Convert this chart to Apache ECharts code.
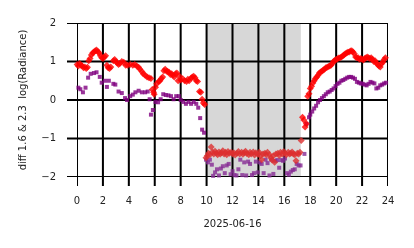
<!DOCTYPE html>
<html>
<head>
<meta charset="utf-8">
<script src="https://cdn.jsdelivr.net/npm/echarts@6/dist/echarts.min.js"></script>
<style>
  html, body { margin: 0; padding: 0; background: #fff; }
  #chart { width: 414px; height: 248px; }
</style>
</head>
<body>
<div id="chart"></div>
<script>
// hour of day, diff value
const redDay = [
  [0.0, 0.92], [0.1, 0.88], [0.2, 0.95], [0.3, 0.9], [0.4, 0.88], [0.5, 0.84], [0.6, 0.86], [0.7, 0.82],
  [0.8, 0.85], [0.9, 1.02], [1.0, 1.08], [1.1, 1.17], [1.2, 1.22], [1.3, 1.25], [1.4, 1.28], [1.5, 1.3],
  [1.6, 1.26], [1.7, 1.22], [1.8, 1.15], [1.9, 1.1], [2.0, 1.08], [2.1, 1.12], [2.2, 1.15], [2.3, 0.9],
  [2.4, 0.84], [2.5, 0.82], [2.6, 0.86], [2.8, 1.02], [2.9, 1.05], [3.0, 1.0], [3.1, 0.96], [3.2, 0.92],
  [3.3, 0.95], [3.45, 1.0], [3.6, 0.98], [3.75, 0.9], [3.9, 0.9], [4.1, 0.92], [4.3, 0.9], [4.45, 0.92],
  [4.6, 0.88], [4.75, 0.85], [4.85, 0.8], [5.0, 0.74], [5.1, 0.68], [5.25, 0.64], [5.4, 0.6], [5.55, 0.58],
  [5.7, 0.56], [5.8, 0.27], [5.9, 0.2], [5.95, 0.15], [6.05, 0.33], [6.15, 0.42], [6.3, 0.48], [6.4, 0.5],
  [6.5, 0.56], [6.6, 0.6], [6.7, 0.76], [6.8, 0.8], [6.9, 0.75], [7.0, 0.74], [7.1, 0.72], [7.2, 0.66],
  [7.3, 0.68], [7.4, 0.64], [7.5, 0.6], [7.6, 0.68], [7.7, 0.7], [7.8, 0.5], [7.9, 0.62], [8.0, 0.52],
  [8.15, 0.55], [8.3, 0.5], [8.45, 0.48], [8.55, 0.54], [8.65, 0.5], [8.8, 0.57], [8.9, 0.6], [9.0, 0.62],
  [9.1, 0.58], [9.2, 0.5], [9.3, 0.48], [9.45, 0.22], [9.55, 0.2], [9.65, 0.02], [9.75, -0.08], [9.85, -0.12]
];
const redEve = [
  [17.4, -0.45], [17.5, -0.52], [17.6, -0.7], [17.7, -0.62], [17.8, 0.1], [17.9, 0.16], [18.0, 0.3],
  [18.1, 0.36], [18.2, 0.44], [18.3, 0.5], [18.4, 0.56], [18.5, 0.6], [18.6, 0.64], [18.7, 0.7], [18.8, 0.73],
  [18.9, 0.75], [19.0, 0.78], [19.1, 0.8], [19.2, 0.84], [19.3, 0.85], [19.4, 0.87], [19.5, 0.88], [19.6, 0.9],
  [19.7, 0.95], [19.8, 1.0], [19.9, 1.03], [20.0, 1.05], [20.1, 1.07], [20.2, 1.09], [20.3, 1.1], [20.4, 1.12],
  [20.5, 1.14], [20.6, 1.17], [20.7, 1.2], [20.8, 1.22], [20.9, 1.24], [21.0, 1.25], [21.1, 1.27], [21.2, 1.28],
  [21.3, 1.25], [21.4, 1.2], [21.5, 1.12], [21.6, 1.1], [21.7, 1.1], [21.8, 1.06], [21.9, 1.08], [22.0, 1.06],
  [22.1, 1.04], [22.2, 1.08], [22.3, 1.1], [22.4, 1.12], [22.5, 1.1], [22.6, 1.08], [22.7, 1.1], [22.8, 1.06],
  [22.9, 1.0], [23.0, 1.02], [23.1, 0.96], [23.2, 0.92], [23.3, 0.88], [23.4, 0.86], [23.5, 0.94], [23.6, 0.98],
  [23.7, 1.05], [23.8, 1.1]
];
const redNight = [
  [9.95, -1.5], [10.05, -1.45], [10.15, -1.38], [10.25, -1.42], [10.35, -1.22], [10.45, -1.35], [10.55, -1.4],
  [10.65, -1.33], [10.75, -1.38], [10.85, -1.42], [10.95, -1.35], [11.05, -1.4], [11.15, -1.37], [11.25, -1.32],
  [11.35, -1.4], [11.45, -1.36], [11.55, -1.42], [11.65, -1.34], [11.75, -1.38], [11.9, -1.36], [12.0, -1.4],
  [12.1, -1.37], [12.2, -1.43], [12.35, -1.38], [12.45, -1.34], [12.55, -1.4], [12.7, -1.36], [12.8, -1.41],
  [12.9, -1.37], [13.0, -1.33], [13.1, -1.39], [13.25, -1.42], [13.35, -1.36], [13.45, -1.4], [13.6, -1.35],
  [13.7, -1.43], [13.8, -1.37], [13.95, -1.41], [14.05, -1.36], [14.15, -1.45], [14.25, -1.55], [14.35, -1.4],
  [14.5, -1.38], [14.6, -1.42], [14.7, -1.36], [14.85, -1.42], [14.95, -1.5], [15.05, -1.56], [15.15, -1.45],
  [15.25, -1.62], [15.35, -1.4], [15.5, -1.38], [15.6, -1.44], [15.7, -1.36], [15.85, -1.4], [15.95, -1.34],
  [16.05, -1.38], [16.15, -1.42], [16.3, -1.36], [16.4, -1.4], [16.5, -1.38], [16.6, -1.35], [16.7, -1.4],
  [16.8, -1.42], [16.9, -1.58], [17.0, -1.38], [17.1, -1.4], [17.2, -1.36], [17.3, -1.05]
];
const purpleDay = [
  [0.1, 0.32], [0.25, 0.28], [0.45, 0.2], [0.65, 0.32], [0.85, 0.58], [1.05, 0.68], [1.3, 0.7], [1.5, 0.72],
  [1.75, 0.6], [1.9, 0.45], [2.15, 0.5], [2.3, 0.34], [2.45, 0.5], [2.8, 0.42], [2.95, 0.4], [3.2, 0.22],
  [3.45, 0.18], [3.7, 0.05], [3.85, 0.0], [4.1, 0.1], [4.3, 0.14], [4.5, 0.2], [4.75, 0.24], [5.0, 0.2],
  [5.25, 0.2], [5.45, 0.22], [5.6, 0.02], [5.7, -0.38], [5.85, -0.26], [6.05, -0.05], [6.25, -0.06],
  [6.45, 0.02], [6.65, 0.15], [6.85, 0.13], [7.05, 0.12], [7.25, 0.1], [7.45, 0.02], [7.65, 0.1], [7.85, 0.1],
  [8.0, 0.0], [8.2, -0.05], [8.4, -0.1], [8.6, -0.05], [8.8, -0.1], [9.0, -0.05], [9.2, -0.1], [9.35, -0.2],
  [9.5, -0.47], [9.65, -0.77], [9.8, -0.85]
];
const purpleEve = [
  [17.7, -0.62], [17.9, -0.45], [18.0, -0.38], [18.15, -0.3], [18.3, -0.22], [18.45, -0.15], [18.6, -0.06],
  [18.75, 0.0], [18.9, 0.05], [19.05, 0.1], [19.2, 0.15], [19.35, 0.2], [19.5, 0.22], [19.65, 0.26], [19.8, 0.3],
  [19.95, 0.36], [20.1, 0.42], [20.25, 0.45], [20.4, 0.5], [20.55, 0.52], [20.7, 0.55], [20.85, 0.58],
  [21.0, 0.6], [21.15, 0.6], [21.3, 0.58], [21.45, 0.55], [21.6, 0.47], [21.75, 0.45], [21.9, 0.43],
  [22.05, 0.42], [22.2, 0.4], [22.35, 0.38], [22.5, 0.42], [22.65, 0.47], [22.8, 0.45], [22.95, 0.43],
  [23.1, 0.3], [23.25, 0.32], [23.4, 0.38], [23.55, 0.4], [23.7, 0.43], [23.85, 0.45]
];
const purpleNight = [
  [9.95, -1.55], [10.1, -1.62], [10.25, -1.55], [10.4, -1.68], [10.5, -1.97], [10.65, -1.88], [10.8, -1.8],
  [10.95, -1.96], [11.1, -1.78], [11.25, -1.72], [11.4, -1.9], [11.55, -1.7], [11.7, -1.66], [11.85, -1.93],
  [12.0, -1.85], [12.15, -1.95], [12.3, -1.96], [12.45, -1.8], [12.6, -1.55], [12.75, -1.95], [12.9, -1.62],
  [13.05, -1.96], [13.2, -1.6], [13.35, -1.66], [13.5, -1.95], [13.65, -1.9], [13.8, -1.6], [13.95, -1.88],
  [14.1, -1.62], [14.25, -1.66], [14.4, -1.9], [14.55, -1.55], [14.7, -1.64], [14.85, -1.96], [15.0, -1.55],
  [15.15, -1.92], [15.3, -1.58], [15.45, -1.56], [15.6, -1.76], [15.75, -1.56], [15.9, -1.58], [16.05, -1.52],
  [16.2, -1.9], [16.35, -1.94], [16.5, -1.86], [16.65, -1.82], [16.8, -1.8], [16.95, -1.66], [17.1, -1.7],
  [17.25, -1.7], [17.55, -1.4]
];
const xTicks = [0, 2, 4, 6, 8, 10, 12, 14, 16, 18, 20, 22, 24];
const yTicks = [-2, -1, 0, 1, 2];
const nightSpan = [10.05, 17.27];

// half of a 2px grid line, in data units of each grid
const halfX = 0.078;
const halfY = 0.026;

const chart = echarts.init(document.getElementById('chart'));
const fontName = 'DejaVu Sans';

chart.setOption({
  animation: false,
  grid: [
    // data + horizontal grid lines (the x range is padded on the left)
    { left: 67, right: 26, top: 23, bottom: 71 },
    // hour labels + vertical grid lines (they reach a bit below y = -2)
    { left: 77, right: 26, top: 23, bottom: 62 },
  ],
  xAxis: [
    {
      gridIndex: 0, type: 'value', min: -0.78, max: 24,
      axisLine: { show: false }, axisTick: { show: false }, axisLabel: { show: false },
      splitLine: { show: false },
    },
    {
      gridIndex: 1, type: 'value', min: 0, max: 24, interval: 2,
      name: '2025-06-16', nameLocation: 'middle', nameGap: 33,
      nameTextStyle: { fontFamily: fontName, fontSize: 10, color: '#222' },
      axisLine: { show: false }, axisTick: { show: false },
      axisLabel: { margin: 10, fontFamily: fontName, fontSize: 10, color: '#222' },
      splitLine: { show: false },
    },
  ],
  yAxis: [
    {
      gridIndex: 0, type: 'value', min: -2, max: 2, interval: 1,
      name: 'diff 1.6 & 2.3  log(Radiance)', nameLocation: 'middle', nameRotate: 90, nameGap: 39,
      nameTextStyle: { fontFamily: fontName, fontSize: 10, color: '#222' },
      axisLine: { show: false }, axisTick: { show: false },
      axisLabel: {
        margin: 11, fontFamily: fontName, fontSize: 10, color: '#222',
        formatter: (v) => String(v).replace('-', '\u2212'),
      },
      splitLine: { show: false },
    },
    {
      gridIndex: 1, type: 'value', min: -2.23, max: 2,
      axisLine: { show: false }, axisTick: { show: false }, axisLabel: { show: false },
      splitLine: { show: false },
    },
  ],
  series: [
    {
      // night shading
      type: 'scatter', xAxisIndex: 0, yAxisIndex: 0, data: [],
      markArea: {
        silent: true,
        itemStyle: { color: '#d7d7d7' },
        data: [[{ xAxis: nightSpan[0] }, { xAxis: nightSpan[1] }]],
      },
    },
    {
      // horizontal grid lines as thin bands
      type: 'scatter', xAxisIndex: 0, yAxisIndex: 0, data: [],
      markArea: {
        silent: true,
        itemStyle: { color: '#000' },
        data: yTicks.map((v) => [{ yAxis: v - halfY }, { yAxis: v + halfY }]),
      },
    },
    {
      // vertical grid lines as thin bands
      type: 'scatter', xAxisIndex: 1, yAxisIndex: 1, data: [],
      markArea: {
        silent: true,
        itemStyle: { color: '#000' },
        data: xTicks.map((v) => [{ xAxis: v - halfX }, { xAxis: v + halfX }]),
      },
    },
    { type: 'scatter', symbol: 'rect', symbolSize: 4, itemStyle: { color: '#800080' }, data: purpleDay.concat(purpleEve) },
    { type: 'scatter', symbol: 'rect', symbolSize: 4, itemStyle: { color: '#862a93' }, data: purpleNight },
    { type: 'scatter', symbol: 'diamond', symbolSize: 7, itemStyle: { color: '#ff0000' }, data: redDay.concat(redEve) },
    { type: 'scatter', symbol: 'diamond', symbolSize: 7, itemStyle: { color: '#dd3030' }, data: redNight },
  ],
});
</script>
</body>
</html>
